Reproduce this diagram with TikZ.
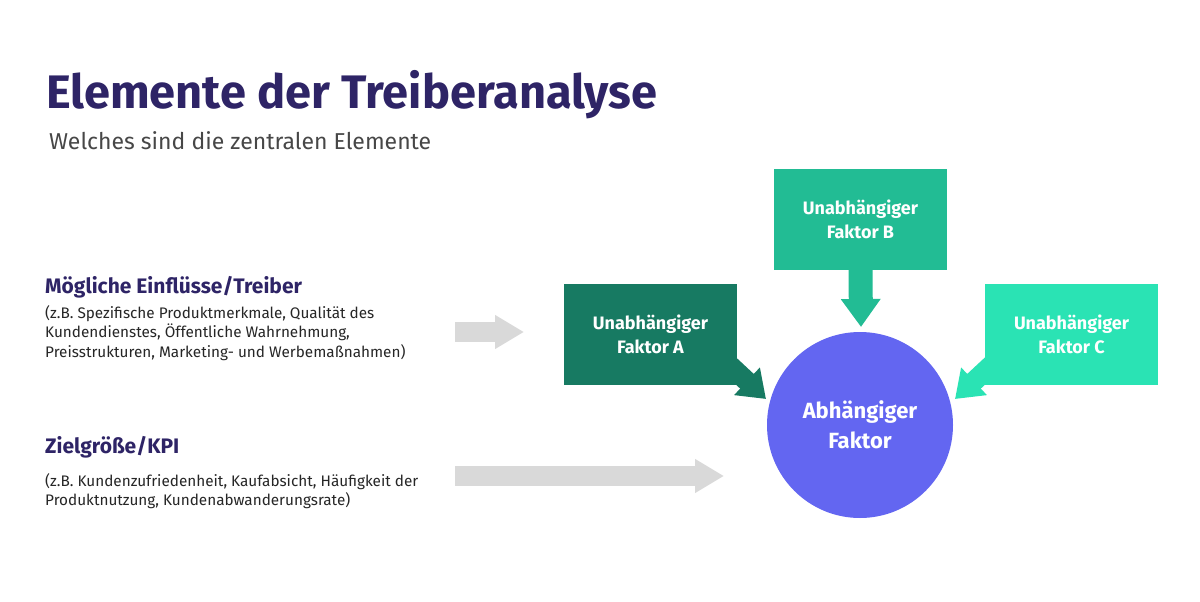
\documentclass[tikz,border=0pt]{standalone}
\usepackage{fontspec}
\setmainfont{Fira Sans}
\usetikzlibrary{arrows.meta}
\definecolor{ttl}{HTML}{2E2466}
\definecolor{fa}{HTML}{177A62}
\definecolor{fb}{HTML}{22BC94}
\definecolor{fc}{HTML}{2AE3B4}
\definecolor{circ}{HTML}{6366F1}
\definecolor{garr}{HTML}{D9D9D9}
\begin{document}
\begin{tikzpicture}[x=1pt,y=-1pt,
  box/.style={minimum width=173pt,minimum height=101pt,inner sep=0pt,text=white,font=\fontsize{18}{24}\selectfont\bfseries,align=center},
  head/.style={anchor=west,text=ttl,font=\fontsize{21}{23}\selectfont\bfseries,inner sep=0pt},
  small/.style={anchor=north west,text=black!85,font=\fontsize{15.3}{19.5}\selectfont,align=left,inner sep=0pt},
  fat/.style={line width=#1,-{Triangle[length=29pt,width=32pt]}}]
\useasboundingbox (0,0) rectangle (1200,602);
\fill[white] (0,0) rectangle (1200,602);
\node[anchor=base west,inner sep=0pt,text=ttl,font=\fontsize{47}{50}\selectfont\bfseries] (title) at (46,108) {Elemente der Treiberanalyse};
\node[anchor=base west,inner sep=0pt,text=black!72,font=\fontsize{23}{26}\selectfont] (sub) at (49,149) {Welches sind die zentralen Elemente};
\node[head] (h1) at (45,287) {Mögliche Einflüsse/Treiber};
\node[small] (t1) at (45,305) {(z.B. Spezifische Produktmerkmale, Qualität des\\Kundendienstes, Öffentliche Wahrnehmung,\\Preisstrukturen, Marketing- und Werbemaßnahmen)};
\node[head] (h2) at (45,447) {Zielgröße/KPI};
\node[small] (t2) at (45,473) {(z.B. Kundenzufriedenheit, Kaufabsicht, Häufigkeit der\\Produktnutzung, Kundenabwanderungsrate)};
\coordinate (g1s) at (455,332); \coordinate (g1e) at (524,332);
\coordinate (g2s) at (455,476); \coordinate (g2e) at (724,476);
\draw[garr,fat=20pt] (g1s) -- (g1e);
\draw[garr,fat=20pt] (g2s) -- (g2e);
\node[circle,fill=circ,minimum size=186pt,inner sep=0pt,text=white,font=\fontsize{22}{30}\selectfont\bfseries,align=center] (c) at (860,425) {Abhängiger\\Faktor};
\node[box,fill=fa] (a) at (650.5,334.5) {Unabhängiger\\Faktor A};
\node[box,fill=fb] (b) at (860.5,219) {Unabhängiger\\Faktor B};
\node[box,fill=fc] (cc) at (1071.5,334.5) {Unabhängiger\\Faktor C};
\coordinate (as) at (722,358); \coordinate (at) at (766,399);
\coordinate (cs) at (999,358); \coordinate (ct) at (955,399);
\draw[fb,line width=24pt,-{Triangle[length=28pt,width=38pt]}] (b.south) -- (861,327);
\draw[fa,line width=20pt,-{Triangle[length=26pt,width=36pt]}] (as) -- (at);
\draw[fc,line width=20pt,-{Triangle[length=26pt,width=36pt]}] (cs) -- (ct);
\end{tikzpicture}
\end{document}
